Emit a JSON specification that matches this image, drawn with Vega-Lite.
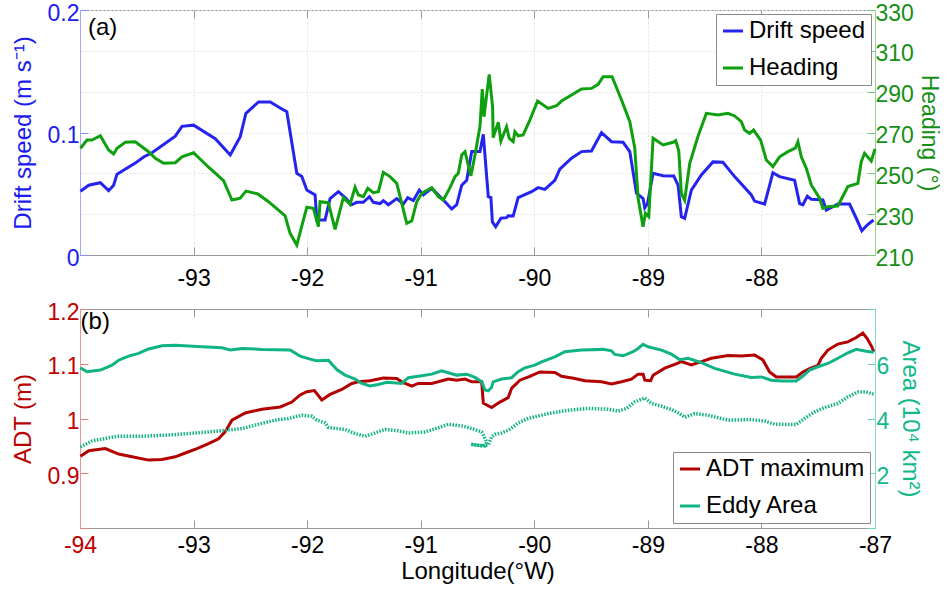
{
  "$schema": "https://vega.github.io/schema/vega-lite/v6.json",
  "padding": {"left": 10, "top": 1, "right": 0, "bottom": 0},
  "config": {
    "font": "Liberation Sans",
    "view": {"stroke": "#9a9a9a", "strokeWidth": 1},
    "axis": {
      "labelFont": "Liberation Sans", "titleFont": "Liberation Sans",
      "labelFontSize": 23, "titleFontSize": 24, "titleFontWeight": "normal",
      "tickSize": -8, "tickColor": "#9a9a9a", "domainColor": "#9a9a9a",
      "grid": false, "labelColor": "black", "titleColor": "black",
      "labelFlush": false, "labelOverlap": false
    },
    "legend": {
      "title": null, "strokeColor": "#8a8a8a", "fillColor": "white", "padding": 5,
      "symbolType": "stroke", "symbolSize": 400, "symbolStrokeWidth": 3,
      "labelFont": "Liberation Sans", "labelFontSize": 24, "labelColor": "black",
      "labelLimit": 300, "rowPadding": 13, "labelOffset": 4, "cornerRadius": 0
    },
    "line": {"strokeWidth": 3}
  },
  "datasets": {
    "speed": [
      {"lon": -93.996, "v": 0.052}, {"lon": -93.923, "v": 0.057}, {"lon": -93.821, "v": 0.059},
      {"lon": -93.748, "v": 0.0525}, {"lon": -93.704, "v": 0.057}, {"lon": -93.674, "v": 0.066},
      {"lon": -93.513, "v": 0.075}, {"lon": -93.44, "v": 0.08}, {"lon": -93.366, "v": 0.0835},
      {"lon": -93.161, "v": 0.097}, {"lon": -93.102, "v": 0.105}, {"lon": -93.0, "v": 0.106},
      {"lon": -92.809, "v": 0.095}, {"lon": -92.677, "v": 0.0816}, {"lon": -92.589, "v": 0.0966},
      {"lon": -92.539, "v": 0.1157}, {"lon": -92.428, "v": 0.125}, {"lon": -92.325, "v": 0.125},
      {"lon": -92.237, "v": 0.12}, {"lon": -92.179, "v": 0.117}, {"lon": -92.091, "v": 0.0667},
      {"lon": -92.047, "v": 0.064}, {"lon": -92.003, "v": 0.053}, {"lon": -91.93, "v": 0.049},
      {"lon": -91.915, "v": 0.0286}, {"lon": -91.842, "v": 0.0286}, {"lon": -91.798, "v": 0.046},
      {"lon": -91.725, "v": 0.0517}, {"lon": -91.666, "v": 0.0468}, {"lon": -91.607, "v": 0.041},
      {"lon": -91.563, "v": 0.043}, {"lon": -91.505, "v": 0.043}, {"lon": -91.452, "v": 0.0476},
      {"lon": -91.417, "v": 0.043}, {"lon": -91.358, "v": 0.042}, {"lon": -91.329, "v": 0.0444},
      {"lon": -91.285, "v": 0.041}, {"lon": -91.211, "v": 0.046}, {"lon": -91.153, "v": 0.0416},
      {"lon": -91.114, "v": 0.0468}, {"lon": -91.065, "v": 0.0444}, {"lon": -91.012, "v": 0.053},
      {"lon": -90.977, "v": 0.049}, {"lon": -90.903, "v": 0.0544}, {"lon": -90.786, "v": 0.0435},
      {"lon": -90.727, "v": 0.0376}, {"lon": -90.683, "v": 0.041}, {"lon": -90.639, "v": 0.057},
      {"lon": -90.595, "v": 0.061}, {"lon": -90.551, "v": 0.0844}, {"lon": -90.478, "v": 0.0844},
      {"lon": -90.449, "v": 0.0985}, {"lon": -90.405, "v": 0.0476}, {"lon": -90.382, "v": 0.0468},
      {"lon": -90.369, "v": 0.027}, {"lon": -90.34, "v": 0.0231}, {"lon": -90.294, "v": 0.03},
      {"lon": -90.244, "v": 0.0305}, {"lon": -90.23, "v": 0.032}, {"lon": -90.186, "v": 0.0318},
      {"lon": -90.142, "v": 0.0468}, {"lon": -90.024, "v": 0.0517}, {"lon": -89.966, "v": 0.055},
      {"lon": -89.907, "v": 0.0536}, {"lon": -89.819, "v": 0.061}, {"lon": -89.775, "v": 0.07},
      {"lon": -89.672, "v": 0.079}, {"lon": -89.584, "v": 0.0844}, {"lon": -89.496, "v": 0.0849},
      {"lon": -89.408, "v": 0.0999}, {"lon": -89.32, "v": 0.0925}, {"lon": -89.218, "v": 0.092},
      {"lon": -89.159, "v": 0.0844}, {"lon": -89.1, "v": 0.0504}, {"lon": -89.042, "v": 0.046},
      {"lon": -89.027, "v": 0.0386}, {"lon": -89.003, "v": 0.042}, {"lon": -88.954, "v": 0.0667},
      {"lon": -88.866, "v": 0.0647}, {"lon": -88.772, "v": 0.0645}, {"lon": -88.734, "v": 0.057},
      {"lon": -88.705, "v": 0.0313}, {"lon": -88.676, "v": 0.03}, {"lon": -88.617, "v": 0.053},
      {"lon": -88.529, "v": 0.0653}, {"lon": -88.427, "v": 0.076}, {"lon": -88.339, "v": 0.0757},
      {"lon": -88.236, "v": 0.064}, {"lon": -88.089, "v": 0.049}, {"lon": -88.06, "v": 0.044},
      {"lon": -87.972, "v": 0.0416}, {"lon": -87.899, "v": 0.0672}, {"lon": -87.84, "v": 0.064},
      {"lon": -87.708, "v": 0.061}, {"lon": -87.664, "v": 0.042}, {"lon": -87.635, "v": 0.041},
      {"lon": -87.596, "v": 0.048}, {"lon": -87.561, "v": 0.0455}, {"lon": -87.459, "v": 0.045},
      {"lon": -87.429, "v": 0.0367}, {"lon": -87.371, "v": 0.0394}, {"lon": -87.327, "v": 0.0416},
      {"lon": -87.224, "v": 0.0416}, {"lon": -87.165, "v": 0.03}, {"lon": -87.116, "v": 0.0198},
      {"lon": -87.069, "v": 0.0245}, {"lon": -87.013, "v": 0.0286}
    ],
    "heading": [
      {"lon": -93.996, "v": 262.3}, {"lon": -93.938, "v": 266.3}, {"lon": -93.894, "v": 266.3},
      {"lon": -93.821, "v": 268.4}, {"lon": -93.748, "v": 261.4}, {"lon": -93.704, "v": 259.5},
      {"lon": -93.674, "v": 262.3}, {"lon": -93.601, "v": 265.2}, {"lon": -93.513, "v": 265.5},
      {"lon": -93.396, "v": 260.6}, {"lon": -93.337, "v": 257.4}, {"lon": -93.264, "v": 254.9},
      {"lon": -93.161, "v": 255.2}, {"lon": -93.102, "v": 258.1}, {"lon": -93.0, "v": 260.1},
      {"lon": -92.868, "v": 253.0}, {"lon": -92.736, "v": 246.4}, {"lon": -92.662, "v": 236.9},
      {"lon": -92.589, "v": 237.8}, {"lon": -92.539, "v": 241.3}, {"lon": -92.434, "v": 239.9},
      {"lon": -92.34, "v": 236.1}, {"lon": -92.237, "v": 231.2}, {"lon": -92.194, "v": 229.2},
      {"lon": -92.15, "v": 220.6}, {"lon": -92.091, "v": 214.9}, {"lon": -92.003, "v": 233.4},
      {"lon": -91.945, "v": 232.9}, {"lon": -91.901, "v": 223.9}, {"lon": -91.886, "v": 236.1},
      {"lon": -91.813, "v": 235.6}, {"lon": -91.754, "v": 222.6}, {"lon": -91.681, "v": 238.1},
      {"lon": -91.622, "v": 234.8}, {"lon": -91.578, "v": 243.2}, {"lon": -91.549, "v": 239.4},
      {"lon": -91.505, "v": 238.6}, {"lon": -91.466, "v": 242.7}, {"lon": -91.417, "v": 240.5},
      {"lon": -91.373, "v": 241.0}, {"lon": -91.329, "v": 250.5}, {"lon": -91.27, "v": 248.4},
      {"lon": -91.211, "v": 245.1}, {"lon": -91.123, "v": 225.5}, {"lon": -91.079, "v": 226.7},
      {"lon": -91.035, "v": 236.1}, {"lon": -90.991, "v": 240.2}, {"lon": -90.903, "v": 243.0},
      {"lon": -90.845, "v": 238.6}, {"lon": -90.801, "v": 236.9}, {"lon": -90.742, "v": 243.0},
      {"lon": -90.698, "v": 248.4}, {"lon": -90.669, "v": 250.0}, {"lon": -90.639, "v": 259.0},
      {"lon": -90.61, "v": 260.6}, {"lon": -90.558, "v": 248.8}, {"lon": -90.522, "v": 259.0},
      {"lon": -90.478, "v": 273.0}, {"lon": -90.458, "v": 291.3}, {"lon": -90.443, "v": 277.7},
      {"lon": -90.397, "v": 298.5}, {"lon": -90.367, "v": 282.6}, {"lon": -90.362, "v": 267.5},
      {"lon": -90.317, "v": 275.0}, {"lon": -90.294, "v": 265.8}, {"lon": -90.244, "v": 272.8},
      {"lon": -90.221, "v": 267.2}, {"lon": -90.186, "v": 265.5}, {"lon": -90.171, "v": 270.4},
      {"lon": -90.142, "v": 268.4}, {"lon": -90.098, "v": 268.8}, {"lon": -90.039, "v": 276.1},
      {"lon": -89.971, "v": 285.4}, {"lon": -89.878, "v": 281.8}, {"lon": -89.804, "v": 283.1},
      {"lon": -89.76, "v": 285.4}, {"lon": -89.672, "v": 288.4}, {"lon": -89.584, "v": 291.3},
      {"lon": -89.496, "v": 291.6}, {"lon": -89.438, "v": 293.6}, {"lon": -89.394, "v": 297.3},
      {"lon": -89.315, "v": 297.3}, {"lon": -89.232, "v": 285.9}, {"lon": -89.159, "v": 275.3},
      {"lon": -89.115, "v": 262.3}, {"lon": -89.086, "v": 237.8}, {"lon": -89.042, "v": 223.9},
      {"lon": -89.021, "v": 230.4}, {"lon": -88.992, "v": 228.8}, {"lon": -88.954, "v": 267.2},
      {"lon": -88.866, "v": 263.9}, {"lon": -88.778, "v": 265.2}, {"lon": -88.755, "v": 266.0},
      {"lon": -88.728, "v": 261.0}, {"lon": -88.705, "v": 240.2}, {"lon": -88.676, "v": 236.9},
      {"lon": -88.631, "v": 254.9}, {"lon": -88.559, "v": 268.0}, {"lon": -88.485, "v": 279.4},
      {"lon": -88.383, "v": 278.6}, {"lon": -88.295, "v": 279.4}, {"lon": -88.236, "v": 278.1},
      {"lon": -88.177, "v": 275.3}, {"lon": -88.148, "v": 271.2}, {"lon": -88.104, "v": 269.6},
      {"lon": -88.069, "v": 271.2}, {"lon": -88.007, "v": 266.3}, {"lon": -87.957, "v": 256.5},
      {"lon": -87.899, "v": 253.3}, {"lon": -87.84, "v": 258.1}, {"lon": -87.767, "v": 260.6},
      {"lon": -87.702, "v": 262.3}, {"lon": -87.679, "v": 265.5}, {"lon": -87.649, "v": 258.1},
      {"lon": -87.605, "v": 252.5}, {"lon": -87.561, "v": 244.3}, {"lon": -87.488, "v": 237.8},
      {"lon": -87.459, "v": 232.9}, {"lon": -87.415, "v": 233.7}, {"lon": -87.327, "v": 234.0},
      {"lon": -87.239, "v": 243.5}, {"lon": -87.151, "v": 245.1}, {"lon": -87.121, "v": 255.7},
      {"lon": -87.092, "v": 259.8}, {"lon": -87.033, "v": 256.0}, {"lon": -87.0, "v": 262.0}
    ],
    "adt": [
      {"lon": -93.996, "v": 0.931}, {"lon": -93.923, "v": 0.941}, {"lon": -93.777, "v": 0.945},
      {"lon": -93.66, "v": 0.935}, {"lon": -93.542, "v": 0.93}, {"lon": -93.396, "v": 0.924},
      {"lon": -93.278, "v": 0.925}, {"lon": -93.161, "v": 0.93}, {"lon": -93.073, "v": 0.937},
      {"lon": -92.97, "v": 0.945}, {"lon": -92.868, "v": 0.954}, {"lon": -92.78, "v": 0.963},
      {"lon": -92.721, "v": 0.976}, {"lon": -92.662, "v": 0.997}, {"lon": -92.545, "v": 1.01},
      {"lon": -92.398, "v": 1.017}, {"lon": -92.237, "v": 1.021}, {"lon": -92.135, "v": 1.03},
      {"lon": -92.062, "v": 1.043}, {"lon": -92.003, "v": 1.049}, {"lon": -91.936, "v": 1.051},
      {"lon": -91.871, "v": 1.034}, {"lon": -91.798, "v": 1.044}, {"lon": -91.695, "v": 1.053},
      {"lon": -91.607, "v": 1.064}, {"lon": -91.549, "v": 1.067}, {"lon": -91.446, "v": 1.069},
      {"lon": -91.329, "v": 1.074}, {"lon": -91.211, "v": 1.073}, {"lon": -91.167, "v": 1.067},
      {"lon": -91.079, "v": 1.059}, {"lon": -91.021, "v": 1.064}, {"lon": -90.903, "v": 1.064},
      {"lon": -90.757, "v": 1.072}, {"lon": -90.683, "v": 1.07}, {"lon": -90.61, "v": 1.072},
      {"lon": -90.551, "v": 1.067}, {"lon": -90.463, "v": 1.067}, {"lon": -90.449, "v": 1.028},
      {"lon": -90.376, "v": 1.02}, {"lon": -90.303, "v": 1.03}, {"lon": -90.23, "v": 1.038},
      {"lon": -90.2, "v": 1.055}, {"lon": -90.127, "v": 1.07}, {"lon": -90.039, "v": 1.077},
      {"lon": -89.951, "v": 1.085}, {"lon": -89.819, "v": 1.084}, {"lon": -89.76, "v": 1.077},
      {"lon": -89.643, "v": 1.073}, {"lon": -89.555, "v": 1.069}, {"lon": -89.408, "v": 1.067},
      {"lon": -89.32, "v": 1.063}, {"lon": -89.232, "v": 1.067}, {"lon": -89.144, "v": 1.072},
      {"lon": -89.086, "v": 1.081}, {"lon": -89.042, "v": 1.081}, {"lon": -89.027, "v": 1.07},
      {"lon": -88.975, "v": 1.069}, {"lon": -88.954, "v": 1.079}, {"lon": -88.851, "v": 1.092},
      {"lon": -88.763, "v": 1.099}, {"lon": -88.705, "v": 1.104}, {"lon": -88.617, "v": 1.098},
      {"lon": -88.529, "v": 1.104}, {"lon": -88.441, "v": 1.11}, {"lon": -88.295, "v": 1.115},
      {"lon": -88.177, "v": 1.114}, {"lon": -88.06, "v": 1.116}, {"lon": -87.987, "v": 1.107},
      {"lon": -87.928, "v": 1.085}, {"lon": -87.869, "v": 1.076}, {"lon": -87.796, "v": 1.076},
      {"lon": -87.693, "v": 1.076}, {"lon": -87.635, "v": 1.085}, {"lon": -87.576, "v": 1.091},
      {"lon": -87.503, "v": 1.097}, {"lon": -87.473, "v": 1.11}, {"lon": -87.415, "v": 1.125},
      {"lon": -87.327, "v": 1.136}, {"lon": -87.239, "v": 1.14}, {"lon": -87.165, "v": 1.148},
      {"lon": -87.107, "v": 1.156}, {"lon": -87.069, "v": 1.146}, {"lon": -87.028, "v": 1.131},
      {"lon": -87.011, "v": 1.122}
    ],
    "area": [
      {"lon": -93.996, "v": 5.85}, {"lon": -93.938, "v": 5.71}, {"lon": -93.821, "v": 5.77},
      {"lon": -93.718, "v": 5.95}, {"lon": -93.66, "v": 6.13}, {"lon": -93.572, "v": 6.28},
      {"lon": -93.484, "v": 6.38}, {"lon": -93.396, "v": 6.54}, {"lon": -93.278, "v": 6.66},
      {"lon": -93.161, "v": 6.68}, {"lon": -92.926, "v": 6.62}, {"lon": -92.75, "v": 6.585},
      {"lon": -92.677, "v": 6.5}, {"lon": -92.574, "v": 6.56}, {"lon": -92.398, "v": 6.525},
      {"lon": -92.15, "v": 6.5}, {"lon": -92.062, "v": 6.28}, {"lon": -91.974, "v": 6.17},
      {"lon": -91.915, "v": 6.11}, {"lon": -91.813, "v": 6.13}, {"lon": -91.739, "v": 5.79},
      {"lon": -91.666, "v": 5.585}, {"lon": -91.578, "v": 5.44}, {"lon": -91.519, "v": 5.28},
      {"lon": -91.446, "v": 5.19}, {"lon": -91.373, "v": 5.24}, {"lon": -91.299, "v": 5.32},
      {"lon": -91.167, "v": 5.28}, {"lon": -91.109, "v": 5.49}, {"lon": -90.991, "v": 5.56},
      {"lon": -90.903, "v": 5.62}, {"lon": -90.815, "v": 5.74}, {"lon": -90.757, "v": 5.67},
      {"lon": -90.683, "v": 5.585}, {"lon": -90.595, "v": 5.62}, {"lon": -90.522, "v": 5.5},
      {"lon": -90.463, "v": 5.34}, {"lon": -90.434, "v": 5.04}, {"lon": -90.405, "v": 5.01},
      {"lon": -90.376, "v": 5.14}, {"lon": -90.362, "v": 5.34}, {"lon": -90.288, "v": 5.44},
      {"lon": -90.2, "v": 5.49}, {"lon": -90.142, "v": 5.71}, {"lon": -90.083, "v": 5.85},
      {"lon": -89.995, "v": 5.95}, {"lon": -89.936, "v": 6.07}, {"lon": -89.819, "v": 6.25},
      {"lon": -89.731, "v": 6.44}, {"lon": -89.584, "v": 6.5}, {"lon": -89.394, "v": 6.525},
      {"lon": -89.32, "v": 6.47}, {"lon": -89.291, "v": 6.34}, {"lon": -89.218, "v": 6.29},
      {"lon": -89.13, "v": 6.44}, {"lon": -89.086, "v": 6.56}, {"lon": -89.042, "v": 6.71},
      {"lon": -88.998, "v": 6.62}, {"lon": -88.88, "v": 6.5}, {"lon": -88.792, "v": 6.35},
      {"lon": -88.719, "v": 6.15}, {"lon": -88.646, "v": 6.2}, {"lon": -88.529, "v": 6.04},
      {"lon": -88.412, "v": 5.83}, {"lon": -88.236, "v": 5.62}, {"lon": -88.089, "v": 5.5},
      {"lon": -88.001, "v": 5.52}, {"lon": -87.913, "v": 5.4}, {"lon": -87.825, "v": 5.37},
      {"lon": -87.693, "v": 5.37}, {"lon": -87.635, "v": 5.55}, {"lon": -87.576, "v": 5.77},
      {"lon": -87.503, "v": 5.89}, {"lon": -87.415, "v": 6.01}, {"lon": -87.327, "v": 6.2},
      {"lon": -87.239, "v": 6.4}, {"lon": -87.165, "v": 6.525}, {"lon": -87.077, "v": 6.46},
      {"lon": -87.011, "v": 6.42}
    ],
    "area_dotted": [
      {"i": 1, "lon": -93.996, "v": 2.96}, {"i": 2, "lon": -93.894, "v": 3.18}, {"i": 3, "lon": -93.777, "v": 3.27},
      {"i": 4, "lon": -93.674, "v": 3.35}, {"i": 5, "lon": -93.454, "v": 3.35}, {"i": 6, "lon": -93.161, "v": 3.41},
      {"i": 7, "lon": -92.868, "v": 3.51}, {"i": 8, "lon": -92.721, "v": 3.57}, {"i": 9, "lon": -92.574, "v": 3.63},
      {"i": 10, "lon": -92.428, "v": 3.79}, {"i": 11, "lon": -92.281, "v": 3.94}, {"i": 12, "lon": -92.165, "v": 4.0},
      {"i": 13, "lon": -92.047, "v": 4.12}, {"i": 14, "lon": -91.959, "v": 4.08}, {"i": 15, "lon": -91.915, "v": 3.94},
      {"i": 16, "lon": -91.842, "v": 3.84}, {"i": 17, "lon": -91.813, "v": 3.67}, {"i": 18, "lon": -91.666, "v": 3.6},
      {"i": 19, "lon": -91.578, "v": 3.45}, {"i": 20, "lon": -91.49, "v": 3.35}, {"i": 21, "lon": -91.402, "v": 3.47},
      {"i": 22, "lon": -91.314, "v": 3.6}, {"i": 23, "lon": -91.197, "v": 3.55}, {"i": 24, "lon": -91.109, "v": 3.47},
      {"i": 25, "lon": -90.962, "v": 3.51}, {"i": 26, "lon": -90.845, "v": 3.66}, {"i": 27, "lon": -90.757, "v": 3.79},
      {"i": 28, "lon": -90.625, "v": 3.72}, {"i": 29, "lon": -90.551, "v": 3.63}, {"i": 30, "lon": -90.496, "v": 3.56},
      {"i": 31, "lon": -90.463, "v": 3.51}, {"i": 32, "lon": -90.426, "v": 3.2}, {"i": 33, "lon": -90.42, "v": 3.13},
      {"i": 34, "lon": -90.434, "v": 3.0}, {"i": 35, "lon": -90.487, "v": 3.02}, {"i": 36, "lon": -90.558, "v": 3.06},
      {"i": 37, "lon": -90.514, "v": 3.03}, {"i": 38, "lon": -90.452, "v": 3.0}, {"i": 39, "lon": -90.405, "v": 3.04},
      {"i": 40, "lon": -90.376, "v": 3.33}, {"i": 41, "lon": -90.347, "v": 3.42}, {"i": 42, "lon": -90.288, "v": 3.47},
      {"i": 43, "lon": -90.23, "v": 3.57}, {"i": 44, "lon": -90.186, "v": 3.69}, {"i": 45, "lon": -90.142, "v": 3.84},
      {"i": 46, "lon": -90.054, "v": 4.0}, {"i": 47, "lon": -89.936, "v": 4.12}, {"i": 48, "lon": -89.878, "v": 4.18},
      {"i": 49, "lon": -89.702, "v": 4.3}, {"i": 50, "lon": -89.526, "v": 4.37}, {"i": 51, "lon": -89.35, "v": 4.34},
      {"i": 52, "lon": -89.262, "v": 4.27}, {"i": 53, "lon": -89.188, "v": 4.37}, {"i": 54, "lon": -89.115, "v": 4.61},
      {"i": 55, "lon": -89.027, "v": 4.75}, {"i": 56, "lon": -88.968, "v": 4.55}, {"i": 57, "lon": -88.88, "v": 4.45},
      {"i": 58, "lon": -88.792, "v": 4.33}, {"i": 59, "lon": -88.719, "v": 4.18}, {"i": 60, "lon": -88.676, "v": 4.04},
      {"i": 61, "lon": -88.588, "v": 4.18}, {"i": 62, "lon": -88.471, "v": 4.12}, {"i": 63, "lon": -88.295, "v": 3.94},
      {"i": 64, "lon": -88.089, "v": 3.96}, {"i": 65, "lon": -87.972, "v": 3.91}, {"i": 66, "lon": -87.884, "v": 3.79},
      {"i": 67, "lon": -87.693, "v": 3.78}, {"i": 68, "lon": -87.62, "v": 4.0}, {"i": 69, "lon": -87.532, "v": 4.24},
      {"i": 70, "lon": -87.444, "v": 4.4}, {"i": 71, "lon": -87.327, "v": 4.55}, {"i": 72, "lon": -87.239, "v": 4.79},
      {"i": 73, "lon": -87.151, "v": 4.97}, {"i": 74, "lon": -87.077, "v": 4.97}, {"i": 75, "lon": -87.011, "v": 4.89}
    ]
  },
  "spacing": 54,
  "bounds": "flush",
  "resolve": {"scale": {"color": "independent"}, "legend": {"color": "independent"}},
  "vconcat": [
    {
      "width": 795,
      "height": 245,
      "resolve": {"scale": {"y": "independent"}, "axis": {"x": "independent"}},
      "layer": [
        {
          "layer": [
            {
              "data": {"name": "speed"},
              "mark": {"type": "line", "strokeWidth": 3},
              "encoding": {
                "x": {
                  "field": "lon", "type": "quantitative",
                  "scale": {"domain": [-94, -87], "nice": false, "zero": false},
                  "axis": {
                    "orient": "bottom", "title": null, "values": [-93, -92, -91, -90, -89, -88],
                    "labelExpr": "'-' + abs(datum.value)", "labelPadding": 20,
                    "grid": true, "gridColor": "#e2e2e2", "gridDash": [2, 2]
                  }
                },
                "y": {
                  "field": "v", "type": "quantitative",
                  "scale": {"domain": [0, 0.2], "nice": false},
                  "axis": {
                    "orient": "left", "values": [0, 0.1, 0.2], "format": "~g", "labelOffset": 3,
                    "title": "Drift speed (m s⁻¹)", "titleColor": "#1c1cf0", "labelColor": "#1c1cf0",
                    "domainColor": "#a6a6ff", "tickColor": "#8a8aff", "labelPadding": 9, "titlePadding": 12
                  }
                },
                "color": {
                  "datum": "Drift speed",
                  "scale": {"domain": ["Drift speed", "Heading"], "range": ["#2424ee", "#0ea00e"]},
                  "legend": {"orient": "top-right", "offset": 4}
                }
              }
            },
            {
              "data": {"values": [{}]},
              "mark": {"type": "text", "align": "left", "baseline": "middle", "font": "Liberation Sans", "fontSize": 24, "color": "black"},
              "encoding": {
                "x": {"datum": -93.93, "type": "quantitative"},
                "y": {"datum": 0.185, "type": "quantitative"},
                "text": {"value": "(a)"}
              }
            }
          ]
        },
        {
          "data": {"name": "heading"},
          "mark": {"type": "line", "strokeWidth": 3},
          "encoding": {
            "x": {
              "field": "lon", "type": "quantitative",
              "scale": {"domain": [-94, -87], "nice": false, "zero": false},
              "axis": {"orient": "top", "title": null, "labels": false, "domain": false, "values": [-93, -92, -91, -90, -89, -88]}
            },
            "y": {
              "field": "v", "type": "quantitative",
              "scale": {"domain": [210, 330], "nice": false, "zero": false},
              "axis": {
                "orient": "right", "values": [210, 230, 250, 270, 290, 310, 330], "labelOffset": 3,
                "title": "Heading (°)", "titleColor": "#168f16", "labelColor": "#168f16", "titleFontSize": 23,
                "domainColor": "#93d493", "tickColor": "#7cc87c", "labelPadding": 8, "titlePadding": 3,
                "grid": true, "gridColor": "#e2e2e2", "gridDash": [2, 2]
              }
            },
            "color": {"datum": "Heading"}
          }
        }
      ]
    },
    {
      "width": 795,
      "height": 219,
      "resolve": {"scale": {"y": "independent"}, "axis": {"x": "independent"}},
      "layer": [
        {
          "layer": [
            {
              "data": {"name": "adt"},
              "mark": {"type": "line", "strokeWidth": 3},
              "encoding": {
                "x": {
                  "field": "lon", "type": "quantitative",
                  "scale": {"domain": [-94, -87], "nice": false, "zero": false},
                  "axis": {
                    "orient": "bottom", "title": "Longitude(°W)", "values": [-94, -93, -92, -91, -90, -89, -88, -87],
                    "labelExpr": "'-' + abs(datum.value)", "labelPadding": 14,
                    "labelColor": {"condition": {"test": "datum.value == -94", "value": "#c00000"}, "value": "black"},
                    "titlePadding": 2
                  }
                },
                "y": {
                  "field": "v", "type": "quantitative",
                  "scale": {"domain": [0.8, 1.2], "nice": false, "zero": false},
                  "axis": {
                    "orient": "left", "values": [0.8, 0.9, 1, 1.1, 1.2], "labelOffset": 3,
                    "labelExpr": "datum.value < 0.85 ? '' : format(datum.value, '~g')",
                    "title": "ADT (m)", "titleColor": "#b80000", "labelColor": "#c00000",
                    "domainColor": "#e89a9a", "tickColor": "#e08080", "labelPadding": 9, "titlePadding": 12
                  }
                },
                "color": {
                  "datum": "ADT maximum",
                  "scale": {"domain": ["ADT maximum", "Eddy Area"], "range": ["#b30000", "#0fb384"]},
                  "legend": {"orient": "bottom-right", "offset": 5}
                }
              }
            },
            {
              "data": {"values": [{}]},
              "mark": {"type": "text", "align": "left", "baseline": "middle", "font": "Liberation Sans", "fontSize": 24, "color": "black"},
              "encoding": {
                "x": {"datum": -93.995, "type": "quantitative"},
                "y": {"datum": 1.176, "type": "quantitative"},
                "text": {"value": "(b)"}
              }
            }
          ]
        },
        {
          "layer": [
            {
              "data": {"name": "area_dotted"},
              "mark": {"type": "line", "strokeWidth": 3.5, "strokeDash": [1.5, 1.5], "strokeCap": "butt", "color": "#0fb384"},
              "encoding": {
                "x": {
                  "field": "lon", "type": "quantitative",
                  "scale": {"domain": [-94, -87], "nice": false, "zero": false},
                  "axis": {"orient": "top", "title": null, "labels": false, "domain": false, "values": [-93, -92, -91, -90, -89, -88]}
                },
                "y": {
                  "field": "v", "type": "quantitative",
                  "scale": {"domain": [0, 8], "nice": false, "zero": false},
                  "axis": {
                    "orient": "right", "values": [0, 2, 4, 6, 8], "labelOffset": 3,
                    "labelExpr": "datum.value == 0 || datum.value == 8 ? '' : datum.label",
                    "title": "Area (10⁴ km²)", "titleColor": "#12b88a", "labelColor": "#12b88a",
                    "domainColor": "#86e0c4", "tickColor": "#6fd6b6", "labelPadding": 9, "titlePadding": 9
                  }
                },
                "order": {"field": "i", "type": "quantitative"}
              }
            },
            {
              "data": {"name": "area"},
              "mark": {"type": "line", "strokeWidth": 3},
              "encoding": {
                "x": {"field": "lon", "type": "quantitative"},
                "y": {"field": "v", "type": "quantitative"},
                "color": {"datum": "Eddy Area"}
              }
            }
          ]
        }
      ]
    }
  ]
}
